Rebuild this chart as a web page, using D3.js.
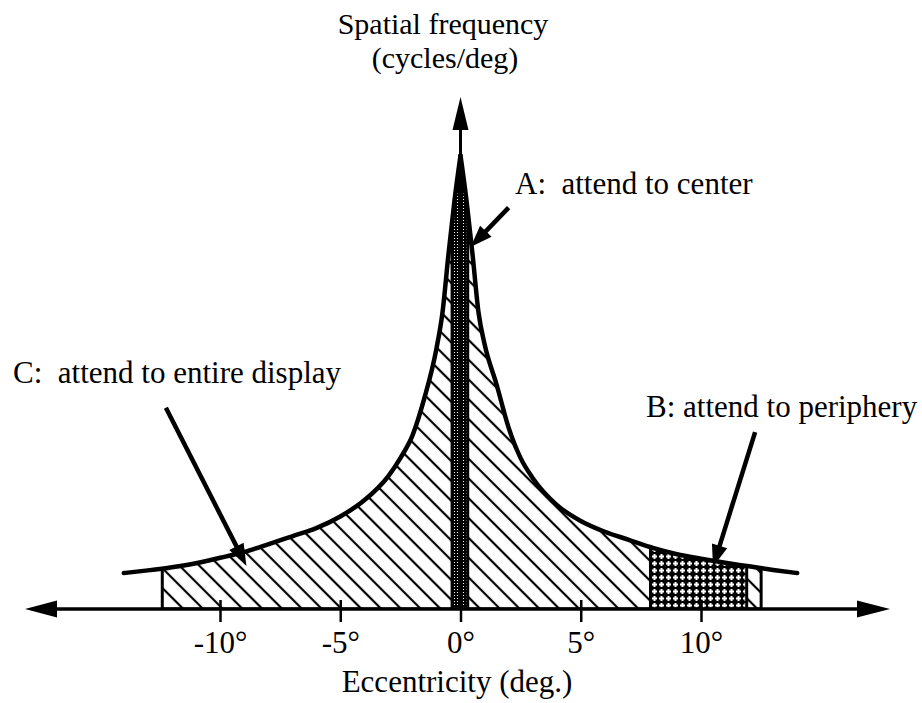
<!DOCTYPE html>
<html>
<head>
<meta charset="utf-8">
<script src="https://cdn.jsdelivr.net/npm/d3@7"></script>
<style>
  body { margin: 0; background: #fff; }
  text { font-family: "Liberation Serif", "Times New Roman", serif; font-size: 31px; fill: #000; white-space: pre; }
</style>
</head>
<body>
<div id="chart"></div>
<script>
"use strict";

// spatial frequency (cycles/deg) against eccentricity (deg)
var eccLeft   = [-14, -13, -12, -11, -10, -9, -8, -7, -6, -5, -4, -3, -2.5, -2, -1.5, -1, -0.75, -0.5, -0.25, 0];
var freqLeft  = [4.0, 4.3, 4.65, 5.1, 5.7, 6.35, 7.2, 8.1, 9.0, 10.3, 12.1, 14.8, 16.8, 19.3, 23.5, 29, 33, 39.5, 45.5, 50.5];
var eccRight  = [0, 0.25, 0.5, 0.75, 1, 1.5, 2, 2.5, 3, 4, 5, 6, 7, 8, 9, 10, 11, 12, 13, 14];
var freqRight = [50.5, 45.5, 39.5, 33, 29.5, 25, 20.2, 16.8, 14.6, 11.6, 9.8, 8.6, 7.7, 6.8, 6.1, 5.6, 5.15, 4.75, 4.35, 4.0];

var tickValues = [-10, -5, 0, 5, 10];

// attention windows (deg): C = whole display, B = periphery, A = center
var regionNames = ["C", "B", "A"];
var regionFrom  = [-12.4, 7.9, -0.35];
var regionTo    = [12.5, 11.9, 0.3];

var labelTexts = ["A:  attend to center", "B: attend to periphery", "C:  attend to entire display"];

var width = 922, height = 703;

var x = d3.scaleLinear().domain([-10, 10]).range([220, 701]);
var y = d3.scaleLinear().domain([0, 50]).range([609, 160]);

var svg = d3.select("#chart").append("svg")
    .attr("width", width)
    .attr("height", height);

var defs = svg.append("defs");

// diagonal hatch
var hatch = defs.append("pattern")
    .attr("id", "hatch")
    .attr("patternUnits", "userSpaceOnUse")
    .attr("width", 14).attr("height", 14)
    .attr("patternTransform", "rotate(45)");
hatch.append("rect").attr("width", 14).attr("height", 14).attr("fill", "#fff");
hatch.append("line")
    .attr("x1", 0).attr("x2", 14).attr("y1", 7).attr("y2", 7)
    .attr("stroke", "#000").attr("stroke-width", 2.2);

// dense cross hatch
var cross = defs.append("pattern")
    .attr("id", "cross")
    .attr("patternUnits", "userSpaceOnUse")
    .attr("width", 7).attr("height", 7);
cross.append("rect").attr("width", 7).attr("height", 7).attr("fill", "#000");
cross.append("rect").attr("x", 2.5).attr("y", 1).attr("width", 2).attr("height", 5).attr("fill", "#fff");
cross.append("rect").attr("x", 1).attr("y", 2.5).attr("width", 5).attr("height", 2).attr("fill", "#fff");

// fine dots
var dots = defs.append("pattern")
    .attr("id", "dots")
    .attr("patternUnits", "userSpaceOnUse")
    .attr("width", 3).attr("height", 3);
dots.append("rect").attr("width", 3).attr("height", 3).attr("fill", "#000");
dots.append("rect").attr("x", 1).attr("y", 1).attr("width", 1).attr("height", 1).attr("fill", "#fff");

var fills = { C: "url(#hatch)", B: "url(#cross)", A: "url(#dots)" };

var left = eccLeft.map(function(e, i) { return [e, freqLeft[i]]; });
var right = eccRight.map(function(e, i) { return [e, freqRight[i]]; });

var area = d3.area()
    .x(function(d) { return x(d[0]); })
    .y0(y(0))
    .y1(function(d) { return y(d[1]); })
    .curve(d3.curveMonotoneX);

var line = d3.line()
    .x(function(d) { return x(d[0]); })
    .y(function(d) { return y(d[1]); })
    .curve(d3.curveMonotoneX);

var under = defs.append("clipPath").attr("id", "under");
under.append("path").attr("d", area(left));
under.append("path").attr("d", area(right));

// attention windows, clipped to the area under the curve
svg.append("g")
    .attr("clip-path", "url(#under)")
  .selectAll("rect")
    .data(regionNames)
  .enter().append("rect")
    .attr("x", function(d, i) { return x(regionFrom[i]); })
    .attr("width", function(d, i) { return x(regionTo[i]) - x(regionFrom[i]); })
    .attr("y", y(60))
    .attr("height", y(0) - y(60))
    .attr("fill", function(d) { return fills[d]; })
    .attr("stroke", "#000")
    .attr("stroke-width", 3);

// axes
var x0 = 25, x1 = 890, yTop = 97;

svg.append("line")
    .attr("x1", x0 + 10).attr("x2", x1 - 10)
    .attr("y1", y(0)).attr("y2", y(0))
    .attr("stroke", "#000").attr("stroke-width", 3.5);

svg.append("line")
    .attr("x1", x(0)).attr("x2", x(0))
    .attr("y1", y(0)).attr("y2", yTop + 10)
    .attr("stroke", "#000").attr("stroke-width", 3);

function head(tx, ty, ang, len, half) {
  var c = Math.cos(ang), s = Math.sin(ang);
  var bx = tx - c * len, by = ty - s * len;
  return [[tx, ty], [bx - s * half, by + c * half], [bx + s * half, by - c * half]];
}

svg.selectAll(".axis-head")
    .data([head(x0, y(0), Math.PI, 32, 8.5), head(x1, y(0), 0, 33, 8.5), head(x(0), yTop, -Math.PI / 2, 33, 8)])
  .enter().append("polygon")
    .attr("class", "axis-head")
    .attr("points", function(d) { return d.join(" "); })
    .attr("fill", "#000");

var xAxis = d3.axisBottom(x)
    .tickValues(tickValues)
    .tickSize(13)
    .tickFormat(function(d) { return d + "\u00b0"; });

var gx = svg.append("g")
    .attr("transform", "translate(0," + y(0) + ")")
    .call(xAxis)
    .attr("font-family", null)
    .attr("font-size", null);
gx.select(".domain").remove();
gx.selectAll(".tick line")
    .attr("y1", -9)
    .attr("stroke", "#000")
    .attr("stroke-width", 2.5);
gx.selectAll(".tick text")
    .attr("y", 44)
    .attr("dy", null)
    .attr("fill", "#000");

// the curve
svg.selectAll(".curve")
    .data([left, right])
  .enter().append("path")
    .attr("class", "curve")
    .attr("d", line)
    .attr("fill", "none")
    .attr("stroke", "#000")
    .attr("stroke-width", 4.5)
    .attr("stroke-linejoin", "round")
    .attr("stroke-linecap", "round");

// pointers from the labels: [from ecc, from freq, to ecc, to freq]
var pointers = [
  [2.0, 44.7, 0.42, 40.3],
  [12.25, 19.7, 10.5, 4.7],
  [-12.25, 22.4, -8.9, 4.8]
];

pointers.forEach(function(p) {
  var sx = x(p[0]), sy = y(p[1]), tx = x(p[2]), ty = y(p[3]);
  var ang = Math.atan2(ty - sy, tx - sx);
  var len = 22;
  svg.append("line")
      .attr("x1", sx).attr("y1", sy)
      .attr("x2", tx - Math.cos(ang) * (len - 4)).attr("y2", ty - Math.sin(ang) * (len - 4))
      .attr("stroke", "#000").attr("stroke-width", 4.5);
  svg.append("polygon")
      .attr("points", head(tx, ty, ang, len, 8).join(" "))
      .attr("fill", "#000");
});

// labels
var labelPos = [[515, 194], [646, 417], [13, 383]];
labelTexts.forEach(function(t, i) {
  svg.append("text")
      .attr("x", labelPos[i][0])
      .attr("y", labelPos[i][1])
      .text(t);
});

svg.append("text")
    .attr("x", 443).attr("y", 34)
    .attr("text-anchor", "middle")
    .style("font-size", "30px")
    .text("Spatial frequency");
svg.append("text")
    .attr("x", 445).attr("y", 68)
    .attr("text-anchor", "middle")
    .style("font-size", "30px")
    .text("(cycles/deg)");
svg.append("text")
    .attr("x", 457).attr("y", 692)
    .attr("text-anchor", "middle")
    .text("Eccentricity (deg.)");
</script>
</body>
</html>
